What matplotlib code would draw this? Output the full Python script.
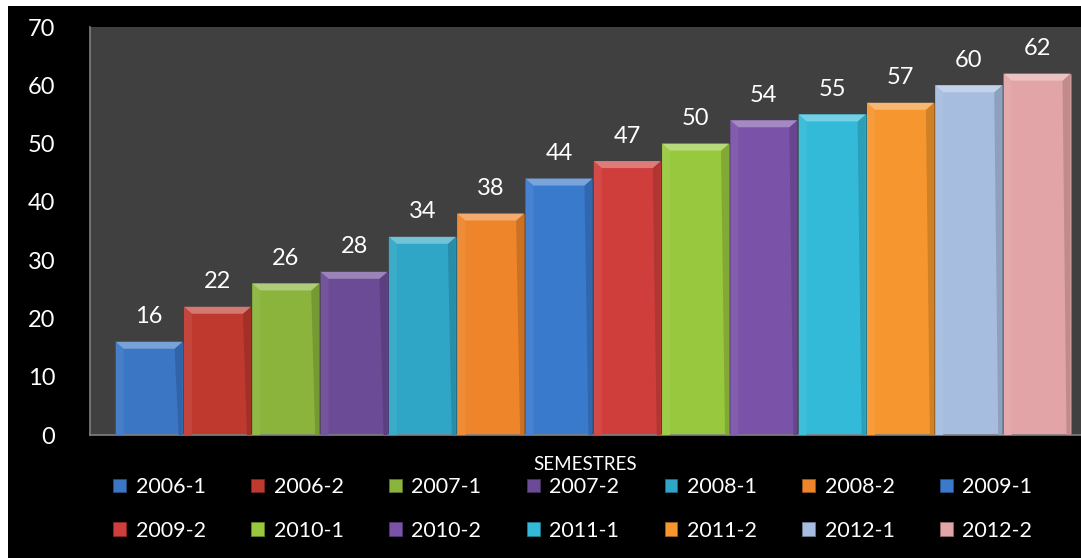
import matplotlib
matplotlib.use("Agg")
import matplotlib.pyplot as plt
from matplotlib.patches import Rectangle, Polygon
from matplotlib.colors import to_rgb

plt.rcParams['font.family'] = ['Lato', 'DejaVu Sans']

# -----------------------------
# data
# -----------------------------
semestres = ["2006-1", "2006-2", "2007-1", "2007-2", "2008-1", "2008-2", "2009-1",
             "2009-2", "2010-1", "2010-2", "2011-1", "2011-2", "2012-1", "2012-2"]
valores = [16, 22, 26, 28, 34, 38, 44, 47, 50, 54, 55, 57, 60, 62]
colores = ["#3a76c4", "#c0392f", "#8ab43c", "#6b4a96", "#2fa6c6", "#ee852a", "#3a7acc",
           "#d03e3c", "#98c83e", "#7a52a8", "#33bad8", "#f5962e", "#a6bde0", "#e2a4a6"]


def shade(c, f):
    r, g, b = to_rgb(c)
    if f > 0:
        return (r + (1 - r) * f, g + (1 - g) * f, b + (1 - b) * f)
    return (r * (1 + f), g * (1 + f), b * (1 + f))


W, H, DPI = 1081, 558, 100
fig = plt.figure(figsize=(W / DPI, H / DPI), dpi=DPI, facecolor="white")
fig.patches.append(Rectangle((8 / W, 0), 1, (H - 6) / H, transform=fig.transFigure,
                             facecolor="black", edgecolor="none", zorder=-10))

ax = fig.add_axes([90 / W, (H - 435) / H, (W - 90) / W, (435 - 27) / H])
ax.set_facecolor("#404040")

slot = 68.3                      # px per category slot
xmin = -0.5 - 25 / slot
xmax = xmin + (W - 90) / slot
ax.set_xlim(xmin, xmax)
ax.set_ylim(0, 70)
ppu = (435 - 27) / 70            # px per value unit

bx = 8 / slot
by = 7 / ppu
sx = 4 / slot
handles = []
for i, (lab, v, c) in enumerate(zip(semestres, valores, colores)):
    x0, x1 = i - 0.49, i + 0.49
    h = ax.bar(i, v, width=0.98, color=c, edgecolor=shade(c, -0.35), linewidth=0.6,
               label=lab, zorder=2)
    handles.append(h)
    # bevel faces
    ax.add_patch(Polygon([(x0, v), (x0 + bx, v - by), (x0 + bx, 0), (x0, 0)],
                         closed=True, facecolor=shade(c, 0.06), edgecolor="none", zorder=3))
    ax.add_patch(Polygon([(x1, v), (x1 - bx, v - by), (x1 - sx, 0), (x1, 0)],
                         closed=True, facecolor=shade(c, -0.15), edgecolor="none", zorder=3))
    ax.add_patch(Polygon([(x0, v), (x1, v), (x1 - bx, v - by), (x0 + bx, v - by)],
                         closed=True, facecolor=shade(c, 0.32), edgecolor="none", zorder=3))
    ax.text(i, v + 25 / ppu, str(v), ha="center", va="center", color="white",
            fontsize=17, zorder=4)

ax.set_yticks(range(0, 71, 10))
ax.set_xticks([])
ax.tick_params(axis="y", length=0, pad=25, labelsize=17, labelcolor="white")
for s in ["top", "right"]:
    ax.spines[s].set_visible(False)
ax.spines["left"].set_color("#808080")
ax.spines["bottom"].set_color("#808080")
ax.spines["left"].set_linewidth(1.2)
ax.spines["bottom"].set_linewidth(1.2)

fig.text((90 + W) / 2 / W, (H - 465) / H, "SEMESTRES", ha="center", va="center",
         color="white", fontsize=13.5)

# legend is filled column-wise, so interleave to get row order
order = []
for k in range(7):
    order += [k, k + 7]
leg = fig.legend([handles[k] for k in order], [semestres[k] for k in order],
                 ncol=7, loc="center", bbox_to_anchor=(0.53, (H - 509) / H),
                 frameon=False, fontsize=15.5, labelcolor="white",
                 handlelength=0.6, handleheight=0.6, handletextpad=0.45,
                 columnspacing=2.1, labelspacing=1.1)

fig.savefig("out.png", dpi=DPI, facecolor=fig.get_facecolor())
